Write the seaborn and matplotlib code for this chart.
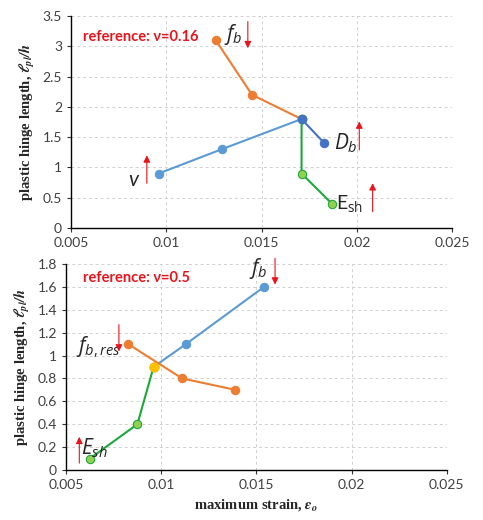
import matplotlib
matplotlib.use("Agg")
import matplotlib.pyplot as plt
import seaborn as sns
import pandas as pd

# top panel (reference nu = 0.16)
top_v_x = [0.0096, 0.0129, 0.0171]
top_v_y = [0.9, 1.3, 1.8]
top_fb_x = [0.0126, 0.0145, 0.0171]
top_fb_y = [3.1, 2.2, 1.8]
top_esh_x = [0.0171, 0.0171, 0.0187]
top_esh_y = [1.8, 0.9, 0.4]
top_db_x = [0.0171, 0.0183]
top_db_y = [1.8, 1.4]

# bottom panel (reference nu = 0.5)
bot_fb_x = [0.0096, 0.0113, 0.0154]
bot_fb_y = [0.9, 1.1, 1.6]
bot_res_x = [0.00827, 0.0111, 0.0139]
bot_res_y = [1.1, 0.8, 0.7]
bot_esh_x = [0.00626, 0.00875, 0.0096]
bot_esh_y = [0.1, 0.4, 0.9]
bot_ref_x = [0.0096]
bot_ref_y = [0.9]

x_ticks = [0.005, 0.01, 0.015, 0.02, 0.025]
x_labels = ["0.005", "0.01", "0.015", "0.02", "0.025"]
top_y_ticks = [0, 0.5, 1, 1.5, 2, 2.5, 3, 3.5]
top_y_labels = ["0", "0.5", "1", "1.5", "2", "2.5", "3", "3.5"]
bot_y_ticks = [0, 0.2, 0.4, 0.6, 0.8, 1, 1.2, 1.4, 1.6, 1.8]
bot_y_labels = ["0", "0.2", "0.4", "0.6", "0.8", "1", "1.2", "1.4", "1.6", "1.8"]

LBLUE = "#5B9BD5"
ORANGE = "#ED7D31"
DBLUE = "#4472C4"
GREEN = "#1DA83C"
LGREEN = "#92D050"
YELLOW = "#FFC000"
RED = "#E8141B"

sns.set_style("white")
plt.rcParams["font.family"] = ["Lato", "DejaVu Sans"]
plt.rcParams["mathtext.fontset"] = "custom"
plt.rcParams["mathtext.it"] = "Open Sans:italic"
plt.rcParams["mathtext.rm"] = "Open Sans"

fig = plt.figure(figsize=(4.83, 5.2), dpi=100)
ax1 = fig.add_axes([0.147, 0.5615, 0.789, 0.4075])
ax2 = fig.add_axes([0.1366, 0.0962, 0.7884, 0.3961])


def series(ax, xs, ys, line, face, edge):
    df = pd.DataFrame({"x": xs, "y": ys})
    sns.lineplot(data=df, x="x", y="y", ax=ax, sort=False, estimator=None,
                 color=line, lw=1.5, marker="o", markersize=6,
                 markerfacecolor=face, markeredgecolor=edge,
                 markeredgewidth=0.8, zorder=3)


def arrow(ax, x, y0, y1):
    ax.annotate("", xy=(x, y1), xytext=(x, y0),
                arrowprops=dict(arrowstyle="-|>", color=RED, lw=0.8,
                                mutation_scale=10, shrinkA=0, shrinkB=0))


def style(ax, yt, yl, ymax):
    ax.set_xlim(0.005, 0.025)
    ax.set_ylim(0, ymax)
    ax.set_xticks(x_ticks, x_labels)
    ax.set_yticks(yt, yl)
    ax.grid(True, ls=(0, (3, 3)), color="#d0d0d0", lw=0.7)
    for s in ["top", "right"]:
        ax.spines[s].set_visible(False)
    for s in ["left", "bottom"]:
        ax.spines[s].set_color("black")
        ax.spines[s].set_linewidth(1.0)
    ax.tick_params(axis="both", labelsize=10, colors="#333333", length=3,
                   direction="out", left=True, bottom=True)
    ax.tick_params(axis="both", labelcolor="#404040")
    ax.set_ylabel(r"plastic hinge length, $\mathbfit{\ell_{pl}/h}$",
                  family="Liberation Serif", fontweight="bold", fontsize=10.5,
                  math_fontfamily="stix")
    ax.set_xlabel("")


# top
series(ax1, top_fb_x, top_fb_y, ORANGE, ORANGE, ORANGE)
series(ax1, top_v_x, top_v_y, LBLUE, LBLUE, LBLUE)
series(ax1, top_esh_x, top_esh_y, GREEN, LGREEN, GREEN)
series(ax1, top_db_x, top_db_y, DBLUE, DBLUE, DBLUE)
style(ax1, top_y_ticks, top_y_labels, 3.5)
ax1.text(0.00565, 3.16, "reference: ν=0.16", color=RED, fontweight="bold",
         fontsize=10.5, va="center", ha="left")
ax1.text(0.0135, 3.19, r"$f_b$", fontsize=15, ha="center", va="center")
ax1.text(0.0194, 1.40, r"$D_b$", fontsize=15, ha="center", va="center")
ax1.text(0.0196, 0.41, r"E$_{\mathrm{sh}}$", fontsize=14, ha="center", va="center")
ax1.text(0.00825, 0.80, "v", fontsize=15, style="italic", ha="center", va="center")
arrow(ax1, 0.01428, 3.41, 2.97)
arrow(ax1, 0.02013, 1.29, 1.76)
arrow(ax1, 0.02083, 0.27, 0.74)
arrow(ax1, 0.00898, 0.74, 1.20)

# bottom
series(ax2, bot_fb_x, bot_fb_y, LBLUE, LBLUE, LBLUE)
series(ax2, bot_res_x, bot_res_y, ORANGE, ORANGE, ORANGE)
series(ax2, bot_esh_x, bot_esh_y, GREEN, LGREEN, GREEN)
ax2.scatter(bot_ref_x, bot_ref_y, s=40, color=YELLOW, edgecolor=YELLOW, zorder=4)
style(ax2, bot_y_ticks, bot_y_labels, 1.8)
ax2.set_xlabel(r"maximum strain, $\mathbfit{\varepsilon_o}$",
               family="Liberation Serif", fontweight="bold", fontsize=10.5,
               math_fontfamily="stix")
ax2.text(0.0059, 1.68, "reference: ν=0.5", color=RED, fontweight="bold",
         fontsize=10.5, va="center", ha="left")
ax2.text(0.0151, 1.76, r"$f_b$", fontsize=15, ha="center", va="center")
ax2.text(0.0067, 1.07, r"$f_{b,res}$", fontsize=15, ha="center", va="center")
ax2.text(0.0065, 0.19, r"$E_{sh}$", fontsize=15, ha="center", va="center")
arrow(ax2, 0.01598, 1.85, 1.62)
arrow(ax2, 0.00778, 1.27, 1.035)
arrow(ax2, 0.0057, 0.06, 0.29)

fig.savefig("out.png", dpi=100)
